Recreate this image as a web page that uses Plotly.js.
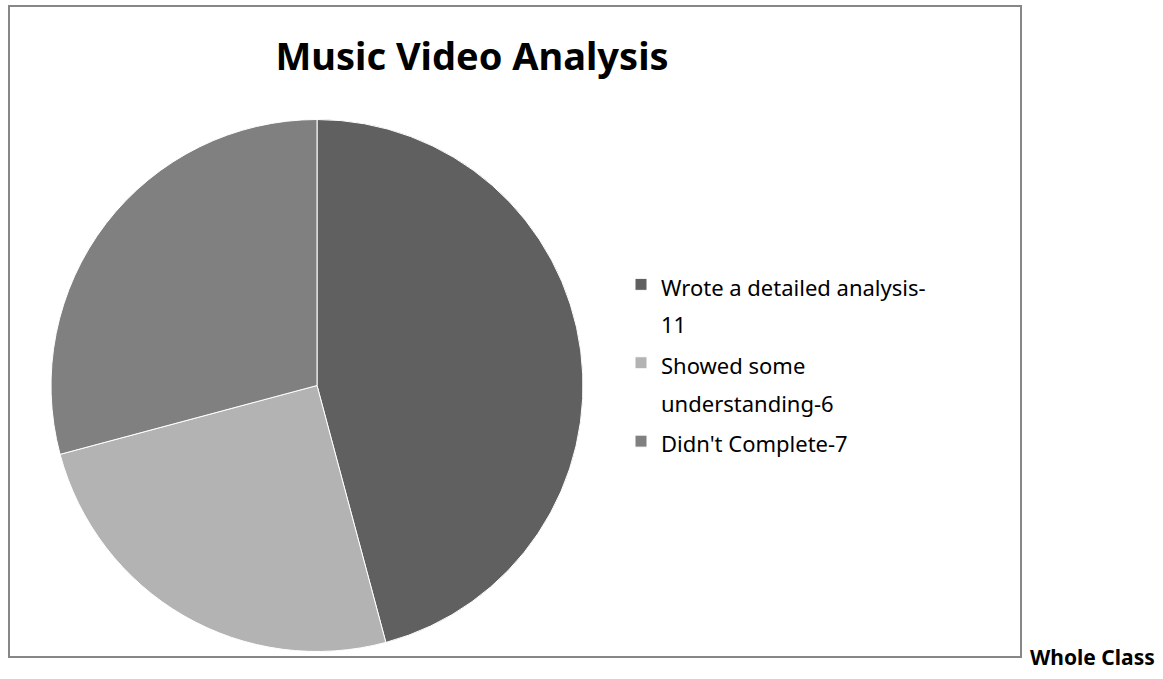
<!DOCTYPE html>
<html>
<head>
<meta charset="utf-8">
<script src="https://cdn.plot.ly/plotly-3.0.1.min.js"></script>
<style>html,body{margin:0;padding:0;background:#fff}#chart{width:1163px;height:679px}</style>
</head>
<body>
<div id="chart"></div>
<script>
const categories = ["Wrote a detailed analysis-<br>11", "Showed some<br>understanding-6", "Didn't Complete-7"];
const values = [11, 6, 7];
const colors = ["#606060", "#b3b3b3", "#808080"];
const chartTitle = "Music Video Analysis";
const sideLabel = "Whole Class";

const W = 1163, H = 679;
// legend text drawn at 22px inside a larger line box to match the reference's line spacing
const legendLabels = categories.map(c => c.split("<br>").map(s => "<span style='font-size:22px'>" + s + "</span>").join("<br>"));
const trace = {
  type: "pie",
  labels: legendLabels,
  values: values,
  sort: false,
  direction: "clockwise",
  rotation: 0,
  textinfo: "none",
  hoverinfo: "label+value",
  marker: {colors: colors, line: {color: "#ffffff", width: 1}},
  domain: {x: [51 / W, 583 / W], y: [(H - 652) / H, (H - 119) / H]}
};
const layout = {
  width: W, height: H,
  margin: {l: 0, r: 0, t: 0, b: 0},
  paper_bgcolor: "#ffffff",
  font: {family: "Noto Sans, Open Sans, sans-serif", color: "#000000"},
  title: {text: "<b>" + chartTitle + "</b>", x: 472 / W, xanchor: "center", y: 1 - 57 / H, yanchor: "middle",
          font: {size: 38, family: "Noto Sans, sans-serif", color: "#000"}},
  showlegend: true,
  legend: {x: 621 / W, xanchor: "left", y: 1 - 259 / H, yanchor: "top", valign: "top",
           font: {size: 29, family: "Noto Sans, sans-serif", color: "#000"},
           itemwidth: 30, traceorder: "normal", bgcolor: "rgba(0,0,0,0)"},
  shapes: [{type: "rect", xref: "paper", yref: "paper",
            x0: 9 / W, x1: 1021 / W, y0: (H - 657) / H, y1: (H - 6) / H,
            line: {color: "#878787", width: 2}, fillcolor: "rgba(0,0,0,0)"}],
  annotations: [{text: "<b>" + sideLabel + "</b>", xref: "paper", yref: "paper",
                 x: 1028 / W, xanchor: "left", y: 1 - 657 / H, yanchor: "middle", showarrow: false,
                 font: {size: 21, family: "Noto Sans, sans-serif", color: "#000"}}]
};
Plotly.newPlot("chart", [trace], layout, {displayModeBar: false, staticPlot: true});
</script>
</body>
</html>
